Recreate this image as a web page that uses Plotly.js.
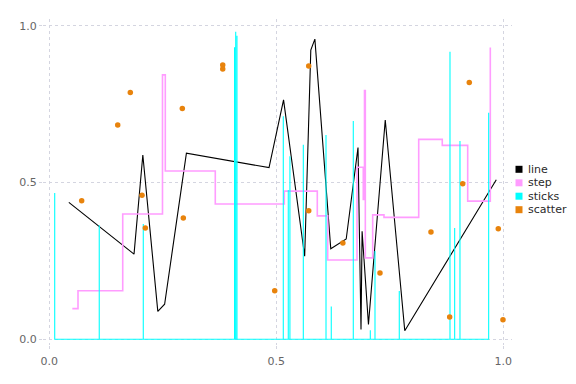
<!DOCTYPE html>
<html>
<head>
<meta charset="utf-8">
<script src="https://cdn.plot.ly/plotly-3.0.1.min.js"></script>
<style>html,body{margin:0;padding:0;background:#fff;}#chart{width:576px;height:384px;}</style>
</head>
<body>
<div id="chart"></div>
<script>
// ---- data ----
const lineX = [0.043, 0.1866, 0.206, 0.239, 0.254, 0.302, 0.484, 0.516, 0.5625, 0.576, 0.585, 0.620, 0.654, 0.680, 0.6866, 0.689, 0.703, 0.740, 0.783, 0.9846];
const lineY = [0.437, 0.272, 0.588, 0.089, 0.112, 0.594, 0.548, 0.764, 0.265, 0.923, 0.958, 0.289, 0.320, 0.612, 0.031, 0.345, 0.047, 0.700, 0.0275, 0.509];

const stepX = [0.0507, 0.0632, 0.1617, 0.2493, 0.2555, 0.3656, 0.5176, 0.5903, 0.6132, 0.6778, 0.6916, 0.6943, 0.6961, 0.7123, 0.7372, 0.8137, 0.8656, 0.9216, 0.9714];
const stepY = [0.098, 0.155, 0.400, 0.844, 0.537, 0.432, 0.473, 0.394, 0.253, 0.549, 0.446, 0.794, 0.260, 0.397, 0.389, 0.638, 0.619, 0.441, 0.931];

const stickX = [0.0119, 0.110, 0.207, 0.408, 0.4106, 0.4134, 0.5154, 0.5264, 0.530, 0.5595, 0.6095, 0.6211, 0.6696, 0.7071, 0.7174, 0.7709, 0.8826, 0.8929, 0.9046, 0.9678];
const stickY = [0.467, 0.364, 0.368, 0.932, 0.982, 0.969, 0.712, 0.4765, 0.584, 0.621, 0.652, 0.105, 0.697, 0.029, 0.282, 0.154, 0.918, 0.355, 0.633, 0.723];

const scatX = [0.0713, 0.1507, 0.1784, 0.2042, 0.2115, 0.2930, 0.2952, 0.3820, 0.3820, 0.4965, 0.5714, 0.5714, 0.6467, 0.7284, 0.8407, 0.8819, 0.9106, 0.9251, 0.9890, 0.9993];
const scatY = [0.442, 0.684, 0.788, 0.460, 0.355, 0.737, 0.387, 0.8755, 0.8627, 0.155, 0.872, 0.410, 0.307, 0.2116, 0.3425, 0.0712, 0.4967, 0.820, 0.353, 0.0626];

const seriesNames = ["line", "step", "sticks", "scatter"];
const tickVals = [0, 0.5, 1];
const tickText = ["0.0", "0.5", "1.0"];

// ---- styles ----
const colors = {line: "#000000", step: "#ff9cff", sticks: "#00ffff", scatter: "#e8830c"};

// sticks path: (x,0)->(x,y)->(x,0) for each stick
const sx = [], sy = [];
stickX.forEach((x, i) => { sx.push(x, x, x); sy.push(0, stickY[i], 0); });

const traces = [
  {x: lineX, y: lineY, mode: "lines", name: "line", line: {color: colors.line, width: 1.1}, showlegend: false},
  {x: stepX, y: stepY, mode: "lines", name: "step", line: {color: colors.step, width: 1.6, shape: "hv"}, showlegend: false},
  {x: sx, y: sy, mode: "lines", name: "sticks", line: {color: colors.sticks, width: 1.1}, showlegend: false},
  {x: scatX, y: scatY, mode: "markers", name: "scatter", marker: {color: colors.scatter, size: 5.5, line: {width: 0}}, showlegend: false}
];

// plot area in pixels
const L = 43, R = 512, T = 19, B = 345, W = 576, H = 384;
const pxX = p => (p - L) / (R - L);
const pxY = p => (B - p) / (B - T);

const legendRows = [169.3, 182.8, 196.2, 209.7];
const shapes = [], annotations = [];
seriesNames.forEach((n, i) => {
  const cy = legendRows[i];
  shapes.push({type: "rect", xref: "paper", yref: "paper",
    x0: pxX(515.5), x1: pxX(522.5), y0: pxY(cy + 3.5), y1: pxY(cy - 3.5),
    fillcolor: colors[n], line: {width: 0}});
  annotations.push({xref: "paper", yref: "paper", x: pxX(525.5), y: pxY(cy),
    xanchor: "left", yanchor: "middle", showarrow: false, text: n,
    font: {family: "DejaVu Sans", size: 11, color: "#2a2a2a"}});
});

const axisCommon = {
  tickmode: "array", tickvals: tickVals, ticktext: tickText,
  showgrid: true, gridcolor: "#d4d5e0", griddash: "dot", gridwidth: 1,
  zeroline: false, showline: false,
  ticks: "outside", ticklen: 3, tickcolor: "#d4d5e0",
  tickfont: {family: "DejaVu Sans", size: 11, color: "#666666"}
};

const layout = {
  width: W, height: H,
  margin: {l: L, r: W - R, t: T, b: H - B, pad: 0},
  paper_bgcolor: "#ffffff", plot_bgcolor: "#ffffff",
  showlegend: false,
  xaxis: Object.assign({}, axisCommon, {range: [-0.0139, 1.0192], ticklabelstandoff: 3}),
  yaxis: Object.assign({}, axisCommon, {range: [-0.0182, 1.0223], ticklabelstandoff: 0}),
  shapes: shapes,
  annotations: annotations
};

Plotly.newPlot("chart", traces, layout, {staticPlot: true, displayModeBar: false});
</script>
</body>
</html>
